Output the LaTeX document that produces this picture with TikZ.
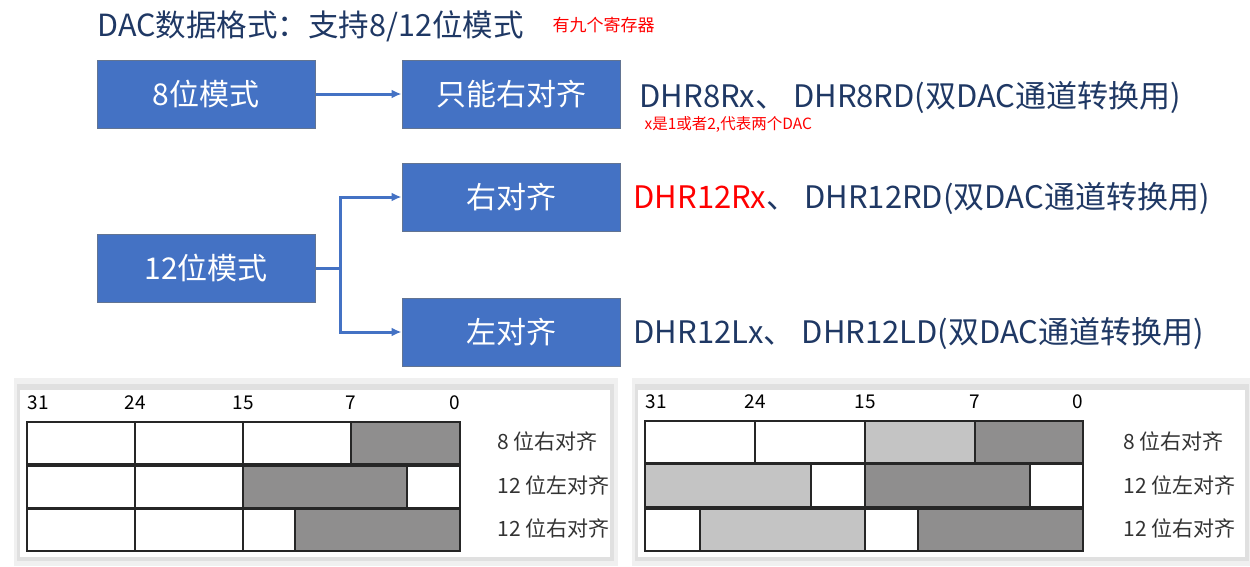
\documentclass[tikz,border=0pt]{standalone}
\usepackage{fontspec}
\setmainfont{Noto Sans CJK SC}
\definecolor{boxblue}{HTML}{4472C4}
\definecolor{navy}{HTML}{1F3864}
\definecolor{dgray}{HTML}{8F8E8E}
\definecolor{lgray}{HTML}{C4C4C4}
\tikzset{
  modebox/.style={draw=navy!70,line width=1pt,fill=boxblue,text=white,minimum width=218pt,minimum height=68pt,font=\fontsize{30}{34}\selectfont},
  regtxt/.style={anchor=west,text=navy,font=\fontsize{31}{35}\selectfont},
  flow/.style={draw=boxblue,line width=3pt,-{Latex[length=10pt,width=9pt]}},
  cell/.style={draw=black!85,line width=2pt},
  bitnum/.style={font=\fontsize{19}{22}\selectfont},
  rowlab/.style={anchor=west,font=\fontsize{21}{24}\selectfont,text=black!80}
}
\usetikzlibrary{arrows.meta}
\begin{document}
\begin{tikzpicture}[x=1pt,y=-1pt]
\useasboundingbox (0,0) rectangle (1250,566);
\node[anchor=west,text=navy,font=\fontsize{30.5}{34}\selectfont] (title) at (94,26) {DAC数据格式：支持8/12位模式};
\node[anchor=west,text=red,font=\fontsize{17}{19}\selectfont] (nine) at (549,25) {有九个寄存器};
% mode boxes
\node[modebox] (m8) at (206,94) {8位模式};
\node[modebox] (r8) at (511,94) {只能右对齐};
\node[modebox] (m12) at (206,268) {12位模式};
\node[modebox] (r12) at (511,197) {右对齐};
\node[modebox] (l12) at (511,332) {左对齐};
\coordinate (split) at (340,268);
\draw[flow] (m8) -- (r8);
\draw[flow] (m12.east) -- (split) |- (r12.west);
\draw[flow] (split) |- (l12.west);
% register names
\node[regtxt] (n8) at (636,97) {DHR8Rx、 DHR8RD(双DAC通道转换用)};
\node[anchor=west,text=red,font=\fontsize{15.5}{18}\selectfont] (note) at (641,124) {x是1或者2,代表两个DAC};
\node[regtxt] (n12r) at (630,198) {\textcolor{red}{DHR12Rx}、 DHR12RD(双DAC通道转换用)};
\node[regtxt] (n12l) at (630,333) {DHR12Lx、 DHR12LD(双DAC通道转换用)};
% left panel
\fill[black!6] (14,378) rectangle (618,566);
\fill[black!12] (17,384) rectangle (614,561);
\fill[white] (20,390) rectangle (610,557);
\foreach \b/\x in {31/38,24/135,15/243,7/351,0/455}
  \node[bitnum] at (\x,403) {\b};
\foreach \y in {422,466,509} {
  \draw[cell] (27,\y) rectangle (135,\y+42);
  \draw[cell] (135,\y) rectangle (243,\y+42);
}
\draw[cell] (243,422) rectangle (351,464);
\draw[cell,fill=dgray] (351,422) rectangle (460,464);
\draw[cell,fill=dgray] (243,466) rectangle (407,508);
\draw[cell] (407,466) rectangle (460,508);
\draw[cell] (243,509) rectangle (295,551);
\draw[cell,fill=dgray] (295,509) rectangle (460,551);
\node[rowlab] at (494,441) {8 位右对齐};
\node[rowlab] at (494,485) {12 位左对齐};
\node[rowlab] at (494,528) {12 位右对齐};
% right panel
\fill[black!6] (632,378) rectangle (1250,566);
\fill[black!12] (635,384) rectangle (1249,561);
\fill[white] (638,390) rectangle (1245,557);
\foreach \b/\x in {31/656,24/755,15/865,7/975,0/1078}
  \node[bitnum] at (\x,402) {\b};
\draw[cell] (645,421) rectangle (755,463);
\draw[cell] (755,421) rectangle (865,463);
\draw[cell,fill=lgray] (865,421) rectangle (975,463);
\draw[cell,fill=dgray] (975,421) rectangle (1083,463);
\draw[cell,fill=lgray] (645,464) rectangle (811,507);
\draw[cell] (811,464) rectangle (865,507);
\draw[cell,fill=dgray] (865,464) rectangle (1030,507);
\draw[cell] (1030,464) rectangle (1083,507);
\draw[cell] (645,509) rectangle (700,551);
\draw[cell,fill=lgray] (700,509) rectangle (865,551);
\draw[cell] (865,509) rectangle (918,551);
\draw[cell,fill=dgray] (918,509) rectangle (1083,551);
\node[rowlab] at (1120,441) {8 位右对齐};
\node[rowlab] at (1120,485) {12 位左对齐};
\node[rowlab] at (1120,528) {12 位右对齐};
\end{tikzpicture}
\end{document}
